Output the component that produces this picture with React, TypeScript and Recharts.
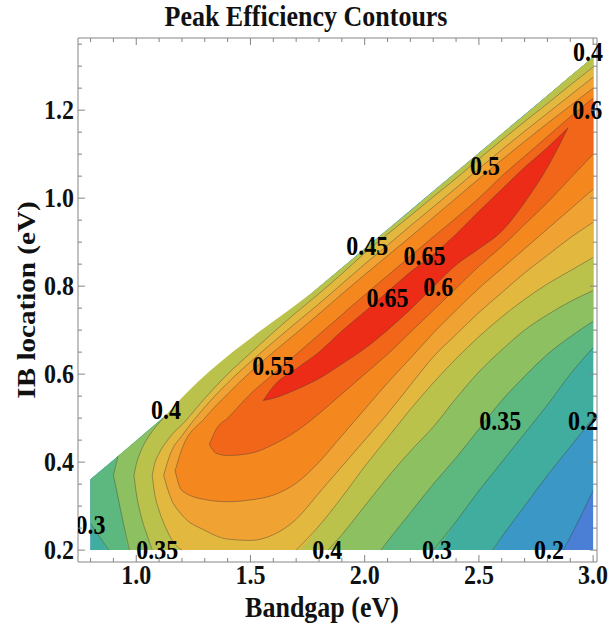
import React from "react";
import { ComposedChart, Area, Line, XAxis, YAxis, ReferenceDot } from "recharts";

const FONT = '"Liberation Serif", "Times New Roman", Times, serif';
const FRAME = "#858585";
const TALL = 1.12; // source glyphs look a bit stretched vertically

const X_DOMAIN = [0.745, 3.017];
const Y_DOMAIN = [0.173, 1.364];
const X_TICKS = [0.8, 0.9, 1.0, 1.1, 1.2, 1.3, 1.4, 1.5, 1.6, 1.7, 1.8, 1.9, 2.0, 2.1, 2.2, 2.3, 2.4, 2.5, 2.6, 2.7, 2.8, 2.9, 3.0];
const X_MAJOR = [1.0, 1.5, 2.0, 2.5, 3.0];
const Y_TICKS = [0.2, 0.25, 0.3, 0.35, 0.4, 0.45, 0.5, 0.55, 0.6, 0.65, 0.7, 0.75, 0.8, 0.85, 0.9, 0.95, 1.0, 1.05, 1.1, 1.15, 1.2, 1.25, 1.3, 1.35];
const Y_MAJOR = [0.2, 0.4, 0.6, 0.8, 1.0, 1.2];

// upper edge of the computed region
const EDGE_X = [0.8, 3.0];
const EDGE_Y = [0.361, 1.32];

// filled region for each contour level: x, lower y, upper y
const X_BASE = [0.8, 3.0];
const LO_BASE = [0.2, 0.2];
const HI_BASE = [0.361, 1.32];

const X_20 = [0.8, 2.87, 2.9, 3.0];
const LO_20 = [0.2, 0.2, 0.23, 0.335];
const HI_20 = [0.361, 1.264, 1.277, 1.32];

const X_25 = [0.8, 2.56, 2.6, 2.7, 2.8, 2.9, 3.0];
const LO_25 = [0.2, 0.2, 0.23, 0.3, 0.37, 0.435, 0.5];
const HI_25 = [0.361, 1.128, 1.146, 1.189, 1.233, 1.277, 1.32];

const X_30 = [0.8, 0.84, 0.88, 2.3, 2.4, 2.5, 2.6, 2.7, 2.8, 2.9, 3.0];
const LO_30 = [0.26, 0.23, 0.2, 0.2, 0.265, 0.335, 0.4, 0.465, 0.53, 0.6, 0.66];
const HI_30 = [0.361, 0.378, 0.396, 1.015, 1.059, 1.102, 1.146, 1.189, 1.233, 1.277, 1.32];

const X_35 = [0.9, 0.92, 0.94, 0.97, 2.07, 2.1, 2.2, 2.3, 2.4, 2.5, 2.6, 2.7, 2.8, 2.9, 3.0];
const LO_35 = [0.37, 0.32, 0.27, 0.2, 0.2, 0.22, 0.285, 0.35, 0.41, 0.475, 0.54, 0.595, 0.645, 0.685, 0.72];
const HI_35 = [0.37, 0.413, 0.422, 0.435, 0.915, 0.928, 0.971, 1.015, 1.059, 1.102, 1.146, 1.189, 1.233, 1.277, 1.32];

const X_40 = [0.99, 1.0, 1.02, 1.05, 1.07, 1.12, 1.84, 1.9, 2.0, 2.1, 2.2, 2.3, 2.4, 2.5, 2.6, 2.7, 2.8, 2.9, 3.0];
const LO_40 = [0.37, 0.33, 0.28, 0.23, 0.2, 0.2, 0.2, 0.235, 0.3, 0.365, 0.425, 0.48, 0.545, 0.605, 0.655, 0.7, 0.735, 0.765, 0.79];
const HI_40 = [0.37, 0.395, 0.425, 0.455, 0.47, 0.501, 0.815, 0.841, 0.884, 0.928, 0.971, 1.015, 1.059, 1.102, 1.146, 1.189, 1.233, 1.277, 1.32];

const X_45 = [1.07, 1.08, 1.1, 1.13, 1.16, 1.2, 1.3, 1.4, 1.5, 1.6, 1.7, 1.8, 1.9, 2.0, 2.1, 2.2, 2.3, 2.4, 2.5, 2.6, 2.7, 2.8, 2.9, 3.0];
const LO_45 = [0.37, 0.33, 0.29, 0.25, 0.22, 0.2, 0.2, 0.2, 0.2, 0.2, 0.2, 0.255, 0.32, 0.39, 0.455, 0.52, 0.58, 0.635, 0.685, 0.73, 0.77, 0.805, 0.835, 0.865];
const HI_45 = [0.37, 0.395, 0.42, 0.445, 0.465, 0.485, 0.545, 0.6, 0.648, 0.695, 0.74, 0.783, 0.828, 0.875, 0.918, 0.96, 1.003, 1.045, 1.089, 1.132, 1.174, 1.215, 1.257, 1.298];

const X_50 = [1.12, 1.15, 1.2, 1.3, 1.4, 1.5, 1.6, 1.7, 1.8, 1.9, 2.0, 2.1, 2.2, 2.3, 2.4, 2.5, 2.6, 2.7, 2.8, 2.9, 3.0];
const LO_50 = [0.37, 0.32, 0.28, 0.245, 0.225, 0.222, 0.235, 0.27, 0.33, 0.39, 0.45, 0.51, 0.575, 0.639, 0.69, 0.74, 0.785, 0.83, 0.87, 0.91, 0.945];
const HI_50 = [0.37, 0.42, 0.46, 0.525, 0.58, 0.628, 0.673, 0.717, 0.76, 0.805, 0.85, 0.893, 0.937, 0.98, 1.023, 1.067, 1.11, 1.152, 1.193, 1.234, 1.275];

const X_55 = [1.17, 1.2, 1.3, 1.4, 1.5, 1.6, 1.7, 1.8, 1.9, 2.0, 2.1, 2.2, 2.3, 2.4, 2.5, 2.6, 2.7, 2.8, 2.9, 3.0];
const LO_55 = [0.38, 0.335, 0.315, 0.31, 0.314, 0.325, 0.352, 0.4, 0.46, 0.52, 0.58, 0.636, 0.693, 0.745, 0.795, 0.84, 0.885, 0.93, 0.975, 1.02];
const HI_55 = [0.38, 0.43, 0.5, 0.555, 0.605, 0.65, 0.693, 0.737, 0.782, 0.826, 0.869, 0.912, 0.956, 1.0, 1.044, 1.087, 1.129, 1.17, 1.21, 1.25];

const X_60 = [1.32, 1.35, 1.4, 1.5, 1.6, 1.7, 1.8, 1.9, 2.0, 2.1, 2.2, 2.3, 2.4, 2.5, 2.6, 2.7, 2.8, 2.9, 3.0];
const LO_60 = [0.44, 0.42, 0.415, 0.42, 0.44, 0.47, 0.51, 0.555, 0.6, 0.645, 0.695, 0.745, 0.795, 0.845, 0.89, 0.94, 0.99, 1.045, 1.1];
const HI_60 = [0.44, 0.475, 0.5, 0.555, 0.6, 0.645, 0.69, 0.735, 0.78, 0.824, 0.868, 0.912, 0.955, 1.0, 1.05, 1.095, 1.14, 1.185, 1.227];

const X_65 = [1.556, 1.6, 1.7, 1.8, 1.9, 2.0, 2.1, 2.2, 2.3, 2.4, 2.5, 2.6, 2.7, 2.8, 2.89];
const LO_65 = [0.54, 0.545, 0.565, 0.59, 0.623, 0.658, 0.7, 0.747, 0.798, 0.848, 0.885, 0.925, 0.99, 1.07, 1.16];
const HI_65 = [0.54, 0.572, 0.612, 0.65, 0.698, 0.742, 0.787, 0.832, 0.872, 0.918, 0.97, 1.02, 1.07, 1.115, 1.16];

// contour labels as printed on the plot
const LABEL_TEXT = ["0.4", "0.6", "0.5", "0.45", "0.65", "0.6", "0.65", "0.55", "0.4", "0.35", "0.2", "0.3", "0.35", "0.4", "0.3", "0.2"];
const LABEL_X = [2.978, 2.974, 2.527, 2.011, 2.262, 2.322, 2.1, 1.6, 1.13, 2.593, 2.956, 0.8, 1.092, 1.836, 2.317, 2.807];
const LABEL_Y = [1.332, 1.2, 1.073, 0.891, 0.868, 0.798, 0.772, 0.618, 0.518, 0.493, 0.493, 0.257, 0.2, 0.2, 0.2, 0.2];

type Band = { level: string; color: string; xs: number[]; lo: number[]; hi: number[] };

const BANDS: Band[] = [
  { level: "base", color: "#4a7fd5", xs: X_BASE, lo: LO_BASE, hi: HI_BASE },
  { level: "0.20", color: "#3b97c6", xs: X_20, lo: LO_20, hi: HI_20 },
  { level: "0.25", color: "#40ad9f", xs: X_25, lo: LO_25, hi: HI_25 },
  { level: "0.30", color: "#5cb87e", xs: X_30, lo: LO_30, hi: HI_30 },
  { level: "0.35", color: "#8cc060", xs: X_35, lo: LO_35, hi: HI_35 },
  { level: "0.40", color: "#bac24c", xs: X_40, lo: LO_40, hi: HI_40 },
  { level: "0.45", color: "#e2b83e", xs: X_45, lo: LO_45, hi: HI_45 },
  { level: "0.50", color: "#f0a232", xs: X_50, lo: LO_50, hi: HI_50 },
  { level: "0.55", color: "#f4881f", xs: X_55, lo: LO_55, hi: HI_55 },
  { level: "0.60", color: "#f2661a", xs: X_60, lo: LO_60, hi: HI_60 },
  { level: "0.65", color: "#ec2c16", xs: X_65, lo: LO_65, hi: HI_65 },
];

const edgeAt = (x: number) =>
  EDGE_Y[0] + ((x - EDGE_X[0]) * (EDGE_Y[1] - EDGE_Y[0])) / (EDGE_X[1] - EDGE_X[0]);
const onBottom = (_x: number, y: number) => y <= 0.2001;
const onEdge = (x: number, y: number) => y >= edgeAt(x) - 0.004;

// contour line rows: leave out stretches that run along the bottom or the upper edge
function lineRows(xs: number[], ys: number[], onBorder: (x: number, y: number) => boolean) {
  const b = xs.map((x, i) => onBorder(x, ys[i]));
  const rows: { x: number; v: number | null }[] = [];
  xs.forEach((x, i) => {
    const keep = !b[i] || (i > 0 && !b[i - 1]) || (i < xs.length - 1 && !b[i + 1]);
    rows.push({ x, v: keep ? ys[i] : null });
    if (i < xs.length - 1 && b[i] && b[i + 1]) rows.push({ x: (x + xs[i + 1]) / 2, v: null });
  });
  return rows;
}

const isMajor = (v: number, majors: number[]) => majors.some((m) => Math.abs(m - v) < 1e-6);

const tickText = { fontFamily: FONT, fontWeight: 700, fontSize: 24, fill: "#111" } as const;

function FrameTick(props: any) {
  const { x, y, payload, side } = props;
  const v: number = payload.value;
  const major = isMajor(v, side === "bottom" || side === "top" ? X_MAJOR : Y_MAJOR);
  const len = major ? 7 : 4;
  let x2 = x;
  let y2 = y;
  if (side === "bottom") y2 = y - len;
  if (side === "top") y2 = y + len;
  if (side === "left") x2 = x + len;
  if (side === "right") x2 = x - len;
  return (
    <g>
      <line x1={x} y1={y} x2={x2} y2={y2} stroke={FRAME} strokeWidth={1} />
      {major && side === "bottom" && (
        <text transform={`translate(${x},${y + 22}) scale(1,${TALL})`} textAnchor="middle" {...tickText}>
          {v.toFixed(1)}
        </text>
      )}
      {major && side === "left" && (
        <text transform={`translate(${x - 4},${y}) scale(1,${TALL})`} dy="0.33em" textAnchor="end" {...tickText}>
          {v.toFixed(1)}
        </text>
      )}
    </g>
  );
}

const labelShape = (text: string) => (p: any) => (
  <g clipPath={p.clipPath}>
    <text
      transform={`translate(${p.cx},${p.cy}) scale(1,${TALL})`}
      dy="0.33em"
      textAnchor="middle"
      {...tickText}
      fill="#000"
    >
      {text}
    </text>
  </g>
);

export default function App() {
  return (
    <div style={{ position: "absolute", left: 0, top: 0, width: 612, height: 628, background: "#fff" }}>
      <ComposedChart width={612} height={628} margin={{ top: 0, right: 0, bottom: 0, left: 8 }}>
        <XAxis
          xAxisId="b"
          dataKey="x"
          type="number"
          domain={X_DOMAIN}
          allowDataOverflow
          ticks={X_TICKS}
          interval={0}
          height={66}
          tickSize={0}
          tickMargin={0}
          tickLine={false}
          axisLine={{ stroke: FRAME }}
          tick={(p: any) => <FrameTick {...p} side="bottom" />}
        />
        <XAxis
          xAxisId="t"
          orientation="top"
          dataKey="x"
          type="number"
          domain={X_DOMAIN}
          allowDataOverflow
          ticks={X_TICKS}
          interval={0}
          height={38}
          tickSize={0}
          tickMargin={0}
          tickLine={false}
          axisLine={{ stroke: FRAME }}
          tick={(p: any) => <FrameTick {...p} side="top" />}
        />
        <YAxis
          yAxisId="l"
          type="number"
          domain={Y_DOMAIN}
          allowDataOverflow
          ticks={Y_TICKS}
          interval={0}
          width={70}
          tickSize={0}
          tickMargin={0}
          tickLine={false}
          axisLine={{ stroke: FRAME }}
          tick={(p: any) => <FrameTick {...p} side="left" />}
        />
        <YAxis
          yAxisId="r"
          orientation="right"
          type="number"
          domain={Y_DOMAIN}
          allowDataOverflow
          ticks={Y_TICKS}
          interval={0}
          width={15}
          tickSize={0}
          tickMargin={0}
          tickLine={false}
          axisLine={{ stroke: FRAME }}
          tick={(p: any) => <FrameTick {...p} side="right" />}
        />

        {BANDS.map((b) => (
          <Area
            key={`fill-${b.level}`}
            xAxisId="b"
            yAxisId="l"
            data={b.xs.map((x, i) => ({ x, r: [b.lo[i], b.hi[i]] }))}
            dataKey="r"
            type={b.xs.length > 2 ? "monotone" : "linear"}
            fill={b.color}
            fillOpacity={1}
            stroke="none"
            dot={false}
            activeDot={false}
            isAnimationActive={false}
          />
        ))}

        {BANDS.slice(1).map((b) => (
          <React.Fragment key={`lines-${b.level}`}>
            <Line
              xAxisId="b"
              yAxisId="l"
              data={lineRows(b.xs, b.lo, onBottom)}
              dataKey="v"
              type="monotone"
              stroke="#3a3a3a"
              strokeOpacity={0.45}
              strokeWidth={0.9}
              dot={false}
              activeDot={false}
              connectNulls={false}
              isAnimationActive={false}
            />
            <Line
              xAxisId="b"
              yAxisId="l"
              data={lineRows(b.xs, b.hi, onEdge)}
              dataKey="v"
              type="monotone"
              stroke="#3a3a3a"
              strokeOpacity={0.45}
              strokeWidth={0.9}
              dot={false}
              activeDot={false}
              connectNulls={false}
              isAnimationActive={false}
            />
          </React.Fragment>
        ))}

        {LABEL_TEXT.map((t, i) => (
          <ReferenceDot
            key={`lab-${i}`}
            xAxisId="b"
            yAxisId="l"
            x={LABEL_X[i]}
            y={LABEL_Y[i]}
            r={1}
            ifOverflow={LABEL_X[i] < 0.85 ? "hidden" : "visible"}
            shape={labelShape(t)}
          />
        ))}
      </ComposedChart>

      <svg
        width={612}
        height={628}
        style={{ position: "absolute", left: 0, top: 0, pointerEvents: "none" }}
      >
        <text
          transform={`translate(306,26) scale(1,${TALL})`}
          textAnchor="middle"
          fontFamily={FONT}
          fontWeight={700}
          fontSize={26}
          fill="#111"
        >
          Peak Efficiency Contours
        </text>
        <text
          transform={`translate(322,617) scale(1,${TALL})`}
          textAnchor="middle"
          fontFamily={FONT}
          fontWeight={700}
          fontSize={26}
          fill="#111"
        >
          Bandgap (eV)
        </text>
        <text
          transform={`translate(35,300) rotate(-90) scale(${TALL},1)`}
          textAnchor="middle"
          fontFamily={FONT}
          fontWeight={700}
          fontSize={26}
          fill="#111"
        >
          IB location (eV)
        </text>
      </svg>
    </div>
  );
}
